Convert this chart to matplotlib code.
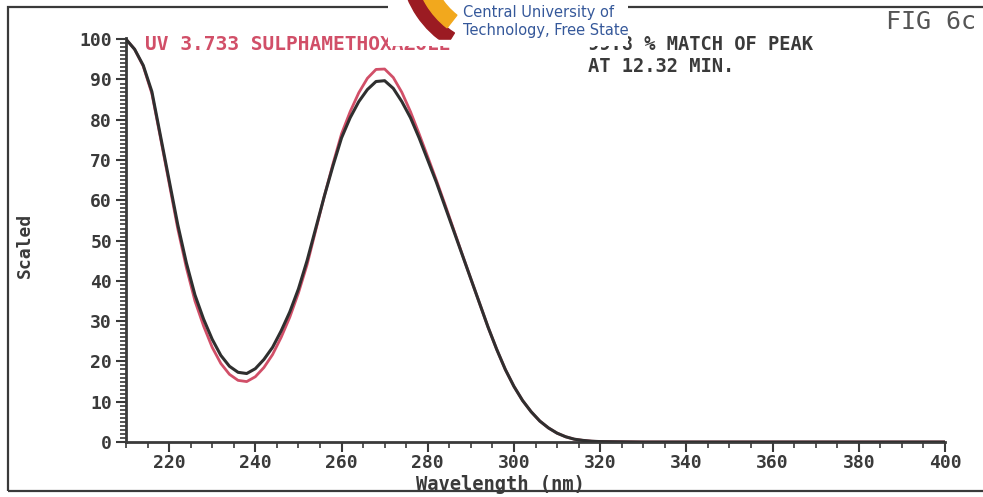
import numpy as np
import matplotlib
matplotlib.use("Agg")
import matplotlib.pyplot as plt
from matplotlib.patches import Rectangle, Wedge

# wavelength grid (nm)
wavelength = [210, 212, 214, 216, 218, 220, 222, 224, 226, 228, 230, 232, 234, 236, 238,
              240, 242, 244, 246, 248, 250, 252, 254, 256, 258, 260, 262, 264, 266, 268,
              270, 272, 274, 276, 278, 280, 282, 284, 286, 288, 290, 292, 294, 296, 298,
              300, 302, 304, 306, 308, 310, 312, 314, 316, 318, 320, 330, 340, 350, 360,
              370, 380, 390, 400]

# sample spectrum (dark curve)
sample = [100, 97.5, 93.5, 87, 76, 65, 54, 44.5, 36.5, 30.5, 25.5, 21.5, 18.8, 17.3, 17.0,
          18.2, 20.5, 23.5, 27.6, 32.3, 38, 45, 53, 61, 68.5, 75.5, 80.5, 84.5, 87.5, 89.5,
          89.7, 87.8, 84.5, 80.5, 75.5, 70, 64.5, 58.5, 52.5, 46.5, 40.5, 34.5, 28.5, 23, 18,
          13.8, 10.3, 7.5, 5.2, 3.5, 2.2, 1.3, 0.7, 0.4, 0.2, 0.1, 0, 0, 0, 0,
          0, 0, 0, 0]

# library spectrum (red curve)
library = [100, 97.5, 93.3, 86.5, 75.5, 64.3, 53, 43.3, 35, 28.8, 23.5, 19.5, 16.8, 15.3, 15.0,
           16.2, 18.5, 21.7, 26, 31, 37, 44, 52.5, 61, 69, 76.5, 82, 86.7, 90.3, 92.5,
           92.6, 90.5, 86.8, 82, 76.5, 70.8, 65, 59, 52.8, 46.6, 40.5, 34.5, 28.5, 23, 18,
           13.8, 10.3, 7.5, 5.2, 3.5, 2.2, 1.3, 0.7, 0.4, 0.2, 0.1, 0, 0, 0, 0,
           0, 0, 0, 0]

x_ticks = [220, 240, 260, 280, 300, 320, 340, 360, 380, 400]
y_ticks = [0, 10, 20, 30, 40, 50, 60, 70, 80, 90, 100]

W, H = 983, 497
ink = "#3a3a3a"
red = "#d14f68"
mono = "DejaVu Sans Mono"

fig = plt.figure(figsize=(W / 100, H / 100), dpi=100)
fig.patch.set_facecolor("white")

# outer frame (right side runs off the picture)
fig.patches.append(Rectangle((8 / W, 1 - 491 / H), 990 / W, 484 / H, transform=fig.transFigure,
                             fill=False, edgecolor=ink, lw=1.6))

ax = fig.add_axes([126 / W, 1 - 442 / H, (945 - 126) / W, (442 - 38) / H])
ax.plot(wavelength, library, color=red, lw=2.0, zorder=2)
ax.plot(wavelength, sample, color="#2f2f2f", lw=2.2, zorder=3)

ax.set_xlim(210, 400)
ax.set_ylim(0, 100.3)
for s in ["top", "right"]:
    ax.spines[s].set_visible(False)
for s in ["left", "bottom"]:
    ax.spines[s].set_color(ink)
    ax.spines[s].set_linewidth(2)

ax.set_xticks(x_ticks)
ax.set_xticks(np.arange(210, 401, 5), minor=True)
ax.set_yticks(y_ticks)
ax.set_yticks(np.arange(0, 101, 1), minor=True)
ax.set_xticklabels([str(v) for v in x_ticks])
ax.set_yticklabels([str(v) for v in y_ticks])
ax.tick_params(which="major", length=7, width=1.5, color=ink, labelcolor=ink, labelsize=13)
ax.tick_params(axis="x", which="major", pad=2)
ax.tick_params(axis="y", which="major", pad=3)
ax.tick_params(which="minor", length=4, width=1.2, color=ink)
for lab in ax.get_xticklabels() + ax.get_yticklabels():
    lab.set_fontfamily(mono)
    lab.set_fontweight("bold")

# axis titles
fig.text(500 / W, 1 - 484 / H, "Wavelength (nm)", family=mono, weight="bold", size=13.5,
         color=ink, ha="center", va="center")
fig.text(25 / W, 1 - 245 / H, "Scaled", family=mono, weight="bold", size=13,
         color=ink, ha="center", va="center", rotation=90)

# header texts
fig.text(145 / W, 1 - 44 / H, "UV 3.733 SULPHAMETHOXAZOLE", family=mono, weight="bold",
         size=14, color=red, ha="left", va="center")
fig.text(588 / W, 1 - 44 / H, "99.8 % MATCH OF PEAK", family=mono, weight="bold",
         size=13.5, color=ink, ha="left", va="center")
fig.text(588 / W, 1 - 67 / H, "AT 12.32 MIN.", family=mono, weight="bold",
         size=13.5, color=ink, ha="left", va="center")
fig.text(976 / W, 1 - 22 / H, "FIG 6c", family=mono, size=18,
         color="#555555", ha="right", va="center")

# logo watermark pasted over the header
lg = fig.add_axes([388 / W, 1 - 46 / H, 240 / W, 46 / H])
lg.set_zorder(10)
lg.set_xlim(388, 628)
lg.set_ylim(46, 0)
lg.set_facecolor("white")
lg.set_xticks([])
lg.set_yticks([])
for s in lg.spines.values():
    s.set_visible(False)
lg.add_patch(Wedge((500, -40), 100, 122, 170, width=14, color="#9b1b22"))
lg.add_patch(Wedge((500, -40), 86, 128, 170, width=16, color="#f2a81d"))
lg.add_patch(Rectangle((388, 40), 240, 6, color="white"))
lg.text(463, 12, "Central University of", color="#35589a", size=10.5, va="center", ha="left",
        family="DejaVu Sans")
lg.text(463, 31, "Technology, Free State", color="#35589a", size=10.5, va="center", ha="left",
        family="DejaVu Sans")

fig.savefig("out.png", dpi=100)
